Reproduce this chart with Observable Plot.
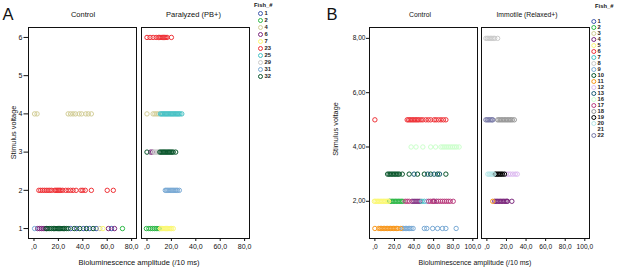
<!DOCTYPE html>
<html><head><meta charset="utf-8">
<script src="https://cdn.jsdelivr.net/npm/d3@7"></script>
<script src="https://cdn.jsdelivr.net/npm/@observablehq/plot@0.6"></script>
<style>
html,body{margin:0;padding:0;background:#fff;}
#wrap{position:relative;width:617px;height:269px;overflow:hidden;background:#fff;font-family:"Liberation Sans",Arial,sans-serif;}
#wrap > svg, #wrap > div{position:absolute;}
</style></head><body><div id="wrap"></div>
<script>
// ---------- Panel A data ----------
const conditionsA = ["Control", "Paralyzed (PB+)"];
const fishA = ["1","2","4","6","7","23","25","29","31","32"];
const colorsA = ["#3E58AC","#2EB848","#D3CE97","#7C287D","#FBF873","#EF3338","#48C2C5","#CCCCCC","#7AAAD5","#0A562C"];
const voltTicksA = [1,2,3,4,5,6];
const ampTicksA = [0,20,40,60,80];
// [fish, stimulus voltage, amplitudes]
const controlA = [
  ["1", 1, [30, 35, 40.5, 45.5, 51, 63.5]],
  ["2", 1, [72.5]],
  ["4", 4, [0.5, 2.5, 28, 30, 32, 34, 37, 39, 42.5, 44.5, 47]],
  ["4", 1, [54]],
  ["6", 1, [3, 4.5, 6, 7.5, 9, 10.5, 61, 66]],
  ["7", 1, [56.5]],
  ["23", 2, [4, 5.5, 7, 8.5, 10, 11.5, 13, 14.5, 17, 18, 19, 20, 21, 22, 23.5, 26, 28, 30, 32, 34.5, 38.5, 40, 42, 47, 60, 65]],
  ["31", 1, [0.5]],
  ["32", 1, [10, 11.5, 13, 14.5, 16, 17, 18, 19, 20, 21, 22, 23, 24, 25, 26.5, 28, 33, 37.5, 43, 48.5]]
];
const paralyzedA = [
  ["2", 1, [-0.5, 1.5, 3, 4.5, 6, 7.5, 9, 10]],
  ["4", 4, [0, 5, 6.5, 8, 9.5]],
  ["6", 3, [3, 4.5]],
  ["7", 1, [11, 12, 13, 14, 15, 16, 17, 18, 19, 20, 21.5]],
  ["23", 6, [0, 2.5, 5, 7.5, 9.5, 10.5, 11.5, 12.5, 13.5, 14.5, 15.5, 16.5, 20]],
  ["25", 4, [11, 12, 13, 14, 15, 16, 17, 18, 19, 20, 21, 22, 23, 24, 25, 26, 27, 28.5]],
  ["29", 3, [5.5, 6.5, 7.5, 8.5, 9.5]],
  ["31", 2, [15, 16, 17, 18, 19, 20, 21, 22, 23, 24, 25, 26.5]],
  ["32", 3, [0, 10.5, 11.5, 12.5, 13.5, 14.5, 15.5, 16.5, 17.5, 18.5, 19.5, 20.5, 21.5, 23.5]]
];

// ---------- Panel B data ----------
const conditionsB = ["Control", "Immotile (Relaxed+)"];
const fishB = ["1","2","3","4","5","6","7","8","9","10","11","12","13","16","17","18","19","20","21","22"];
const colorsB = ["#3E58AC","#2EB848","#D3CE97","#7C287D","#FBF873","#EF3338","#48C2C5","#CCCCCC","#7AAAD5","#0A562C","#F8981D","#DDBAF1","#1A5F76","#CCFFCC","#BB3F7F","#999999","#000000","#B6E7E8","#FFFFFF","#797AA7"];
const voltTicksB = [2,4,6,8];
const ampTicksB = [0,20,40,60,80,100];
const controlB = [
  ["2", 2, [15, 16.5, 18, 19.5, 21, 22.5, 24, 25.5, 27, 28.5]],
  ["4", 2, [38, 40, 42, 44, 46, 60, 63]],
  ["5", 2, [-0.5, 1, 2.5, 4, 5.5, 7, 8.5, 10, 11.5, 13, 14]],
  ["6", 5, [0, 33, 34.5, 36, 37.5, 39, 40.5, 42, 43.5, 45, 47, 49, 52, 54.5, 57, 60.5, 62.5, 65, 67.5, 70, 72.5]],
  ["7", 2, [48, 50.5]],
  ["9", 2, [53]],
  ["9", 1, [28, 29.5, 31, 32.5, 34, 35.5, 37, 39, 50.5, 53, 59, 64, 69, 72.5, 83]],
  ["10", 3, [13, 14.5, 16, 17.5, 19, 20.5, 22, 23.5, 25, 28, 35, 43.5, 50.5, 57, 64, 72.5]],
  ["11", 1, [0, 4, 5.5, 7, 8.5, 10, 11.5, 13, 14.5, 16, 17.5, 19, 20.5, 22, 23.5, 26.5]],
  ["13", 3, [40, 54, 60.5, 66]],
  ["16", 4, [37, 42, 49, 57, 62, 67.5, 69.5, 71.5, 73.5, 75.5, 77.5, 79.5, 81.5, 83.5, 86]],
  ["17", 2, [31, 33, 35, 55, 57, 59, 61, 65, 67, 69, 71, 73, 75, 77, 80]]
];
const immotileB = [
  ["4", 2, [8, 9.5, 11, 12.5, 14, 15.5, 17, 18.5, 20, 21, 25.5]],
  ["8", 8, [-1, 0.5, 2, 3.5, 5, 6.5, 8, 11]],
  ["11", 2, [6]],
  ["12", 3, [20, 22, 24, 26.5, 29, 31]],
  ["18", 5, [11, 12.5, 14, 15.5, 17, 18.5, 20, 21.5, 23, 24.5, 26, 28]],
  ["19", 3, [8.5, 10, 11.5, 13, 14.5, 16, 18]],
  ["20", 3, [1, 2.5, 4, 5.5, 7]],
  ["22", 5, [-1, 0.5, 2, 3.5, 5, 6]]
];

// ---------- helpers ----------
const FONT = '"Liberation Sans", Arial, sans-serif';
function rows(groups, cond) {
  return groups.flatMap(([fish, volt, amps]) => amps.map(amp => ({cond, fish, volt, amp})));
}
const fmtX = d => d === 0 ? ",0" : d3.format(".1f")(d).replace(".", ",");
const fmtYB = d => d3.format(".2f")(d).replace(".", ",");
const fmtYA = d => String(d);

function panel(o) {
  const svg = Plot.plot({
    width: o.width, height: 269,
    marginLeft: o.marginLeft, marginRight: 2, marginTop: 27, marginBottom: 31,
    style: {fontFamily: FONT, fontSize: o.fontSize, color: "#111", background: "transparent", overflow: "visible"},
    fx: {domain: o.conditions, paddingInner: o.paddingInner, paddingOuter: 0, axis: null, label: null},
    x: {domain: o.xDomain, ticks: o.xTicks, tickFormat: fmtX, tickSize: 3, tickPadding: 2.5, label: null},
    y: {domain: o.yDomain, ticks: o.yTicks, tickFormat: o.yFormat, tickSize: o.yTickSize, tickPadding: o.yTickPadding, label: null},
    color: {type: "ordinal", domain: o.fish, range: o.colors},
    marks: [
      Plot.frame({stroke: "#111", strokeWidth: 1}),
      Plot.dot(o.data, {x: "amp", y: "volt", fx: "cond", stroke: "fish", r: 2.2, strokeWidth: 1})
    ]
  });
  svg.style.left = o.left + "px";
  svg.style.top = "0px";
  return svg;
}

function legend(o) {
  const svg = Plot.plot({
    width: o.width, height: o.height, margin: 0,
    style: {fontFamily: FONT, fontSize: "5.8px", fontWeight: "bold", color: "#222", background: "transparent", overflow: "visible"},
    y: {type: "point", domain: o.fish, range: o.yRange, padding: 0, axis: null},
    color: {type: "ordinal", domain: o.fish, range: o.colors},
    marks: [
      Plot.dot(o.fish, {y: d => d, stroke: d => d, frameAnchor: "left", dx: o.dotX, r: 2, strokeWidth: 1}),
      Plot.text(o.fish, {y: d => d, text: d => d, frameAnchor: "left", dx: o.textX, textAnchor: "start", fill: "#222"})
    ]
  });
  svg.style.left = o.left + "px";
  svg.style.top = "0px";
  return svg;
}

const wrap = document.getElementById("wrap");
const dataA = [...rows(controlA, conditionsA[0]), ...rows(paralyzedA, conditionsA[1])]
  .sort((a, b) => fishA.indexOf(a.fish) - fishA.indexOf(b.fish));
const dataB = [...rows(controlB, conditionsB[0]), ...rows(immotileB, conditionsB[1])]
  .sort((a, b) => fishB.indexOf(a.fish) - fishB.indexOf(b.fish));

wrap.appendChild(panel({
  data: dataA, conditions: conditionsA, fish: fishA, colors: colorsA,
  left: 0, width: 252, marginLeft: 28, paddingInner: 0.044, fontSize: "7px",
  xDomain: [-4.5, 84], xTicks: ampTicksA,
  yDomain: [0.74, 6.26], yTicks: voltTicksA, yFormat: fmtYA, yTickSize: 4.5, yTickPadding: 1.5
}));
wrap.appendChild(panel({
  data: dataB, conditions: conditionsB, fish: fishB, colors: colorsB,
  left: 320, width: 272, marginLeft: 49, paddingInner: 0.0356, fontSize: "6.6px",
  xDomain: [-5.5, 104.8], xTicks: ampTicksB,
  yDomain: [0.63, 8.4], yTicks: voltTicksB, yFormat: fmtYB, yTickSize: 3, yTickPadding: 1
}));
wrap.appendChild(legend({fish: fishA, colors: colorsA, left: 252, width: 30, height: 85, yRange: [13.3, 76.3], dotX: 8, textX: 12}));
wrap.appendChild(legend({fish: fishB, colors: colorsB, left: 587, width: 30, height: 150, yRange: [13.5, 143], dotX: 6.3, textX: 10}));

// ---------- overlay texts ----------
const ns = "http://www.w3.org/2000/svg";
const ov = document.createElementNS(ns, "svg");
ov.setAttribute("width", 617); ov.setAttribute("height", 269);
ov.style.left = "0px"; ov.style.top = "0px"; ov.style.pointerEvents = "none";
const texts = [
  {t: "A", x: 2.5, y: 20, s: 16.5, a: "start"},
  {t: "B", x: 326.5, y: 20, s: 16.5, a: "start"},
  {t: "Control", x: 83, y: 16.5, s: 7.5, a: "middle"},
  {t: "Paralyzed (PB+)", x: 193.5, y: 16.5, s: 7.5, a: "middle"},
  {t: "Control", x: 420, y: 16.5, s: 6.8, a: "middle"},
  {t: "Immotile (Relaxed+)", x: 527, y: 16.5, s: 6.8, a: "middle"},
  {t: "Bioluminescence amplitude (/10 ms)", x: 139, y: 265, s: 7.5, a: "middle"},
  {t: "Bioluminescence amplitude (/10 ms)", x: 475, y: 265, s: 7, a: "middle"},
  {t: "Stimulus voltage", x: 15.5, y: 132.5, s: 7.3, a: "middle", r: true},
  {t: "Stimulus voltage", x: 337.5, y: 129, s: 7.3, a: "middle", r: true},
  {t: "Fish_#", x: 254, y: 6.5, s: 5.8, a: "start", b: true},
  {t: "Fish_#", x: 595, y: 7.5, s: 5.8, a: "start", b: true}
];
for (const d of texts) {
  const el = document.createElementNS(ns, "text");
  el.textContent = d.t;
  el.setAttribute("text-anchor", d.a);
  el.setAttribute("font-family", FONT);
  el.setAttribute("font-size", d.s);
  el.setAttribute("fill", "#111");
  if (d.b) el.setAttribute("font-weight", "bold");
  if (d.r) {
    el.setAttribute("transform", `translate(${d.x},${d.y}) rotate(-90)`);
  } else {
    el.setAttribute("x", d.x); el.setAttribute("y", d.y);
  }
  ov.appendChild(el);
}
wrap.appendChild(ov);
</script></body></html>
